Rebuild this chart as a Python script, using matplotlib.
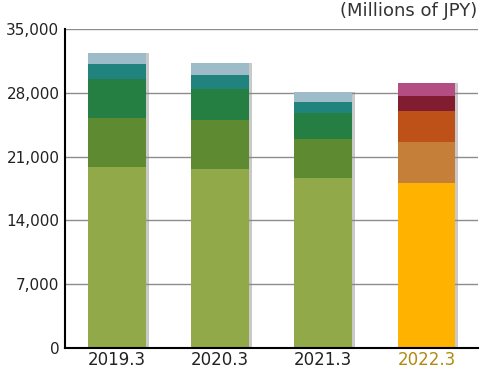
import matplotlib.pyplot as plt
import numpy as np

years = ['2019.3', '2020.3', '2021.3', '2022.3']

# stacked segments, bottom to top (millions of JPY)
seg1 = [19900, 19600, 18700, 18100]
seg2 = [5380, 5410, 4240, 4500]
seg3 = [4210, 3370, 2820, 3360]
seg4 = [1650, 1600, 1240, 1680]
seg5 = [1270, 1250, 1100, 1430]

old_colors = ['#92a94a', '#5e8a32', '#267f42', '#20837e', '#9dbbc9']
new_colors = ['#ffb300', '#c67f38', '#bd5118', '#821c30', '#b44d82']

plt.rcParams['font.family'] = ['DejaVu Sans']

fig = plt.figure(figsize=(4.8, 3.76), dpi=100)
ax = fig.add_axes([0.1354, 0.0745, 0.8606, 0.8484])

x = np.arange(len(years))
w = 0.56
segs = [seg1, seg2, seg3, seg4, seg5]
totals = np.sum(segs, axis=0)

# drop shadow
ax.bar(x + 0.03, totals, w, color='#888888', alpha=0.45, zorder=1)

bottom = np.zeros(len(years))
for i, s in enumerate(segs):
    cols = old_colors[i:i + 1] * 3 + new_colors[i:i + 1]
    ax.bar(x, s, w, bottom=bottom, color=cols, zorder=2)
    bottom += s

ax.set_xlim(-0.5, 3.5)
ax.set_ylim(0, 35000)
ax.set_yticks(range(0, 35001, 7000))
ax.set_yticklabels(['0', '7,000', '14,000', '21,000', '28,000', '35,000'])
ax.set_xticks(x)
ax.set_xticklabels(years)

ax.yaxis.grid(True, color='#8c8c8c', linewidth=1.0)
ax.set_axisbelow(True)
for sp in ['top', 'right']:
    ax.spines[sp].set_visible(False)
ax.spines['left'].set_linewidth(1.5)
ax.spines['bottom'].set_linewidth(1.5)
ax.tick_params(axis='y', length=0, labelsize=11, colors='#222222', pad=4)
ax.tick_params(axis='x', length=0, labelsize=12, colors='#222222', pad=2)
ax.get_xticklabels()[3].set_color('#b08a10')

fig.text(0.995, 0.972, '(Millions of JPY)', ha='right', va='center',
         fontsize=13, color='#333333')

plt.savefig('out.png', dpi=100)
